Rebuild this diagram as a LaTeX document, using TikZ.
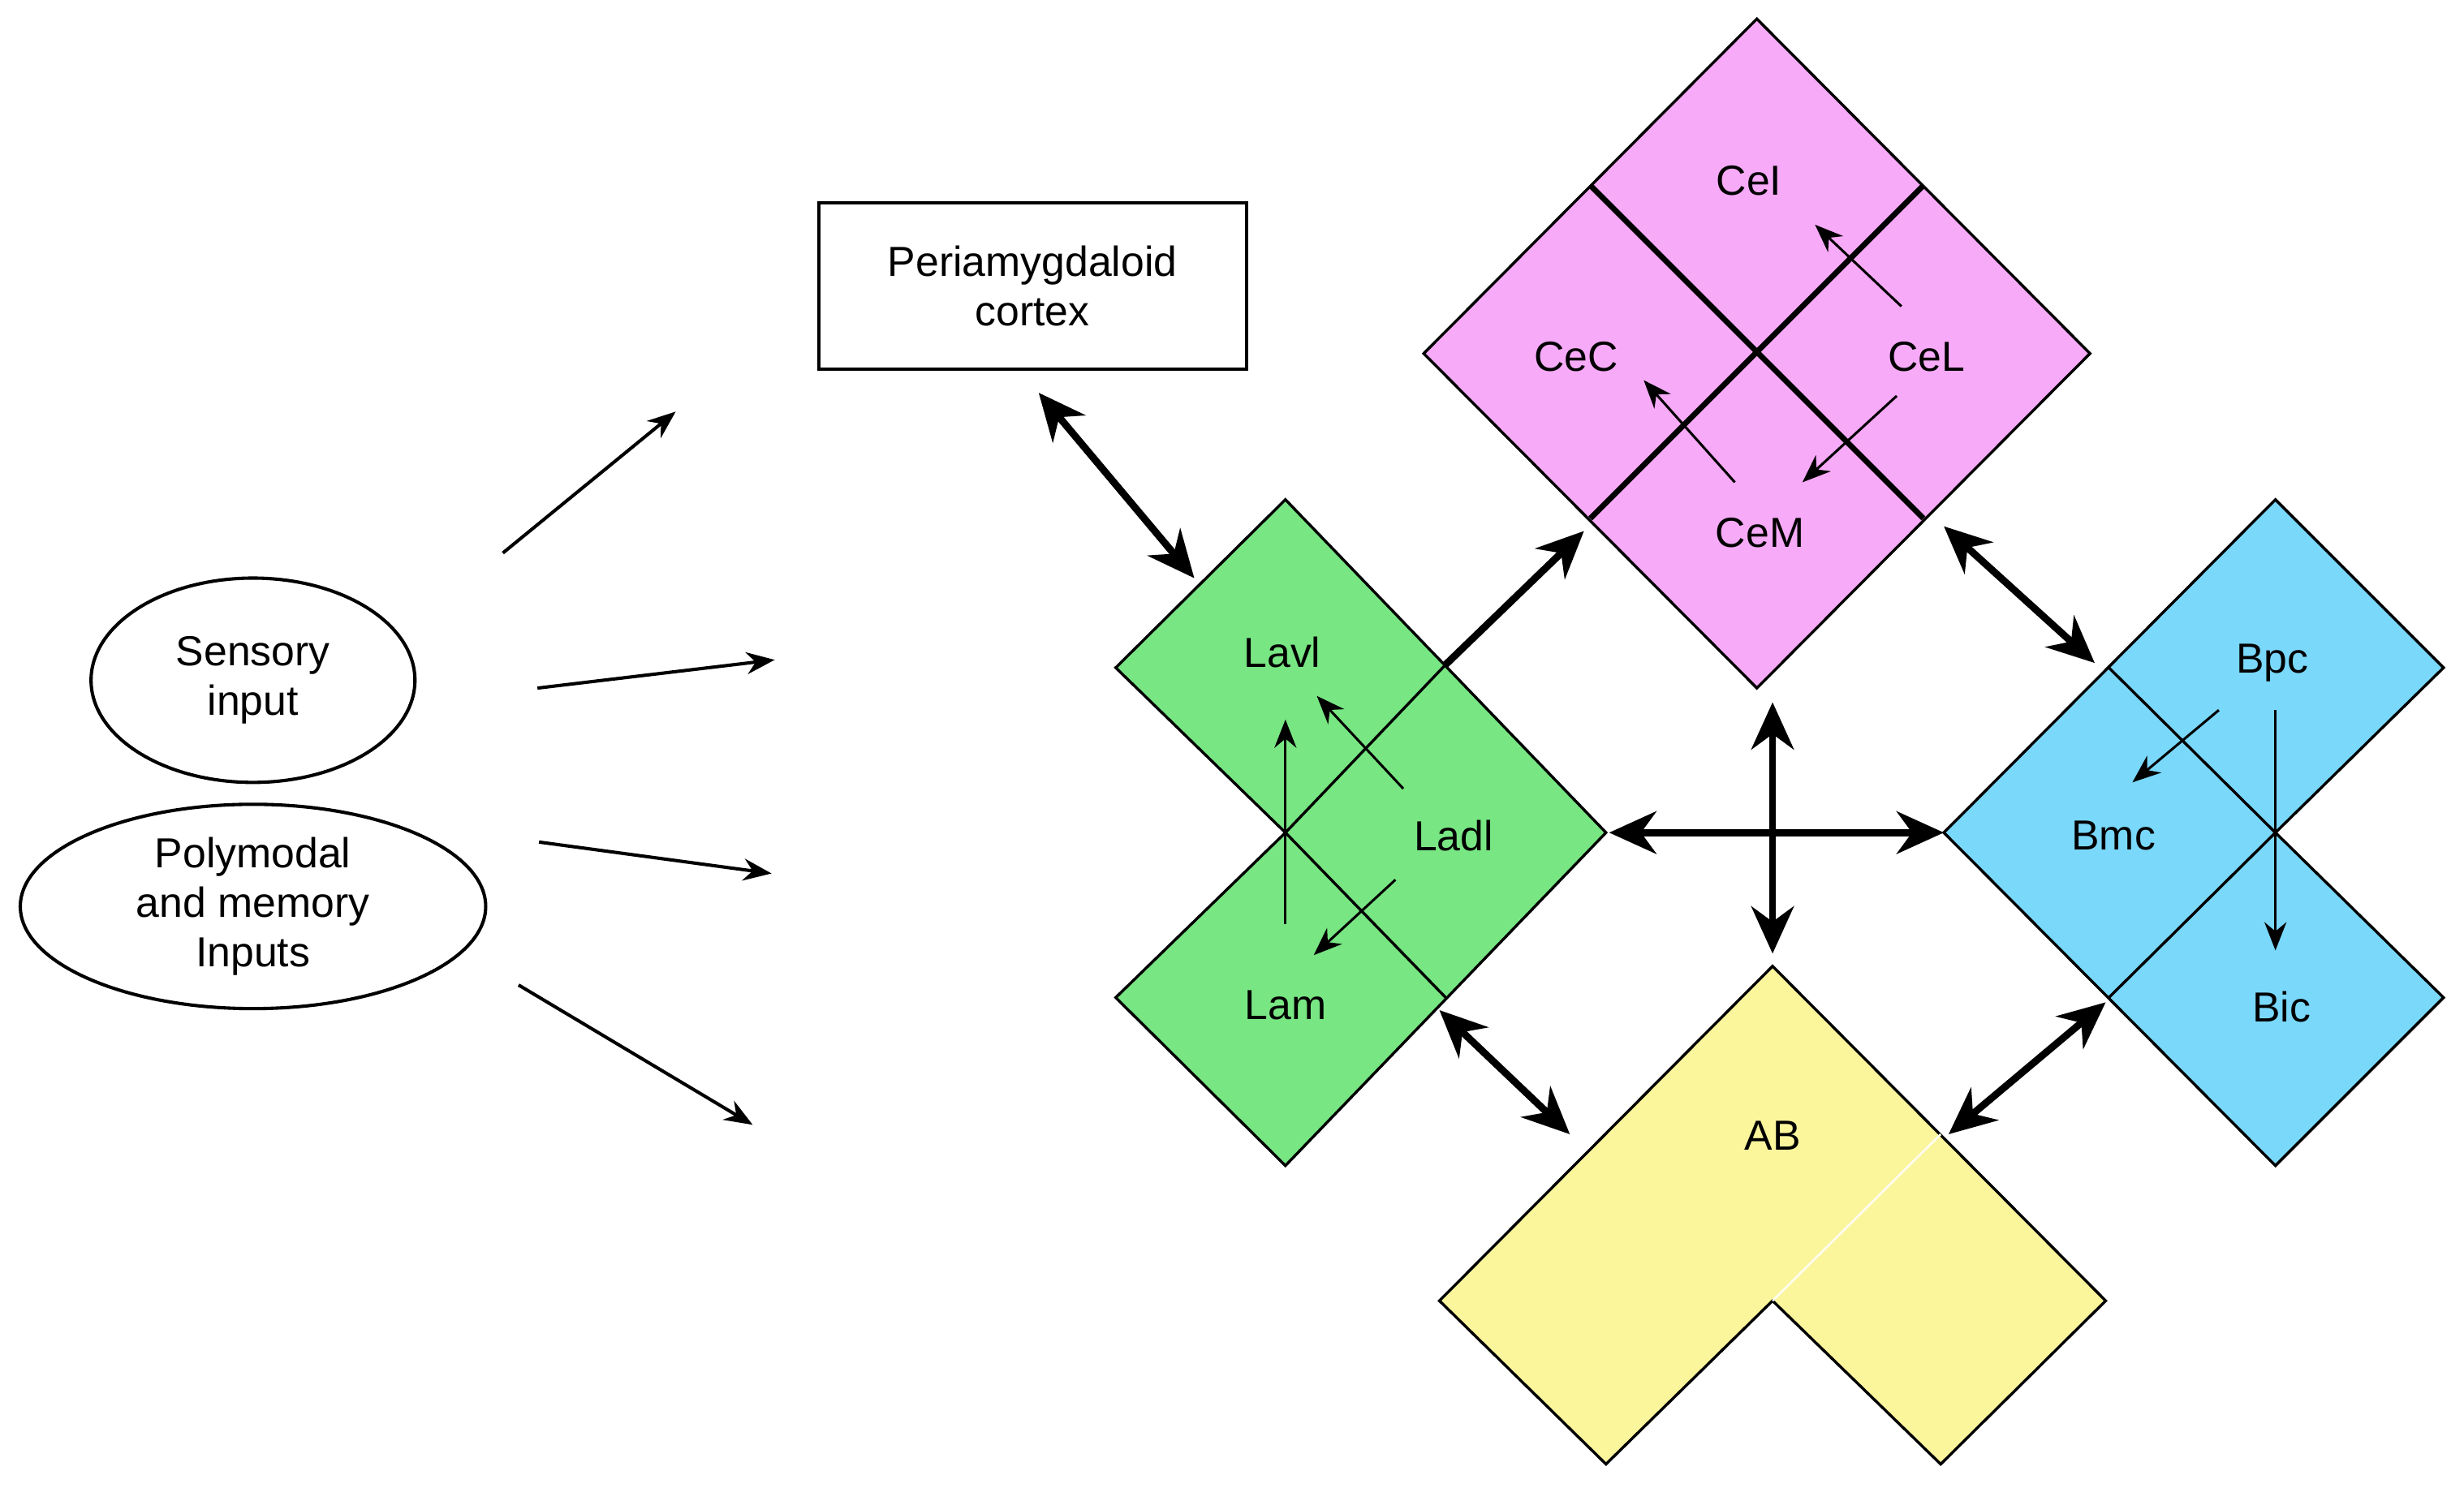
\documentclass[tikz,border=0pt]{standalone}
\usepackage{fontspec}
\setmainfont{Liberation Sans}
\usetikzlibrary{arrows.meta, shapes.geometric}
\definecolor{cepink}{HTML}{F7AAF7}
\definecolor{lagreen}{HTML}{78E683}
\definecolor{bblue}{HTML}{7AD8FA}
\definecolor{abyellow}{HTML}{FBF59C}
\tikzset{
    lbl/.style={font=\fontsize{7.6}{9}\selectfont, align=center},
    big/.style={line width=1.3pt, {Stealth[length=3mm,width=2.7mm]}-{Stealth[length=3mm,width=2.7mm]}},
    small/.style={line width=.45pt, -{Stealth[length=1.8mm,width=1.4mm]}},
    region/.style={draw=black, line width=.5pt, line join=miter}
}
\begin{document}
\begin{tikzpicture}[x=.01cm, y=-.01cm]
        \useasboundingbox (0, 0) rectangle (1568, 947);
        % nuclei
        \fill [region, fill=cepink] (1118, 12) -- (1330, 225) -- (1118, 438) -- (906, 225) -- cycle;
        \draw [line width=1pt] (1012, 118) -- (1224, 330) (1224, 118) -- (1012, 330);
        \fill [region, fill=lagreen] (818, 318) -- (1022, 530) -- (818, 742) -- (710, 635)
            -- (818, 530) -- (710, 425) -- cycle;
        \draw [region] (920, 423) -- (818, 530) -- (920, 635);
        \fill [region, fill=bblue] (1448, 318) -- (1555, 425) -- (1448, 530) -- (1555, 635)
            -- (1448, 742) -- (1237, 530) -- cycle;
        \draw [region] (1342, 425) -- (1448, 530) -- (1342, 635);
        \fill [region, fill=abyellow] (1128, 615) -- (1340, 828) -- (1235, 932) -- (1128, 828)
            -- (1022, 932) -- (916, 828) -- cycle;
        \draw [white!85!abyellow, line width=.4pt] (1235, 722) -- (1128, 828);
        % labels
        \node [lbl] (cel) at (1113, 115) {CeI};
        \node [lbl] (cec) at (1003, 227) {CeC};
        \node [lbl] (cell) at (1226, 227) {CeL};
        \node [lbl] (cem) at (1120, 339) {CeM};
        \node [lbl] (lavl) at (816, 415) {Lavl};
        \node [lbl] (ladl) at (925, 532) {Ladl};
        \node [lbl] (lam) at (818, 640) {Lam};
        \node [lbl] (bpc) at (1446, 422) {Bpc};
        \node [lbl] (bmc) at (1345, 532) {Bmc};
        \node [lbl] (bic) at (1452, 641) {Bic};
        \node [lbl] (ab) at (1128, 723) {AB};
        \node [lbl, draw, line width=.6pt, minimum width=2.72cm, minimum height=1.06cm] (peri)
            at (657, 182) {Periamygdaloid\\cortex};
        \node [lbl, draw, ellipse, line width=.6pt, minimum width=2.06cm, minimum height=1.3cm, inner sep=0pt] (sens)
            at (161, 433) {Sensory\\input};
        \node [lbl, draw, ellipse, line width=.6pt, minimum width=2.96cm, minimum height=1.3cm, inner sep=0pt] (poly)
            at (161, 577) {Polymodal\\and memory\\Inputs};
        % end points
        \coordinate (a1) at (320, 352); \coordinate (b1) at (430, 262);
        \coordinate (a2) at (342, 438); \coordinate (b2) at (493, 420);
        \coordinate (a3) at (343, 536); \coordinate (b3) at (491, 556);
        \coordinate (a4) at (330, 627); \coordinate (b4) at (479, 716);
        \coordinate (pa) at (661, 250); \coordinate (pb) at (760, 368);
        \coordinate (ga) at (920, 423); \coordinate (gb) at (1008, 338);
        \coordinate (ca) at (1237, 335); \coordinate (cb) at (1333, 422);
        \coordinate (ha) at (1024, 530); \coordinate (hb) at (1237, 530);
        \coordinate (va) at (1128, 447); \coordinate (vb) at (1128, 607);
        \coordinate (la) at (916, 643); \coordinate (lb) at (999, 722);
        \coordinate (ra) at (1340, 638); \coordinate (rb) at (1240, 722);
        \foreach \s/\t in {a1/b1, a2/b2, a3/b3, a4/b4}
            \draw [small, line width=.6pt] (\s) -- (\t);
        \foreach \s/\t in {pa/pb, ca/cb, ha/hb, va/vb, la/lb, ra/rb}
            \draw [big] (\s) -- (\t);
        \draw [line width=1.3pt, -{Stealth[length=3mm,width=2.7mm]}] (ga) -- (gb);
        % internal arrows
        \draw [small] (1210, 195) -- (1155, 143);
        \draw [small, {Stealth[length=1.8mm,width=1.4mm]}-] (1046, 242) -- (1104, 307);
        \draw [small] (1207, 252) -- (1147, 307);
        \draw [small, {Stealth[length=1.8mm,width=1.4mm]}-] (818, 458) -- (818, 588);
        \draw [small] (893, 502) -- (838, 443);
        \draw [small] (888, 560) -- (836, 608);
        \draw [small] (1412, 452) -- (1357, 498);
        \draw [small] (1448, 452) -- (1448, 605);
    \end{tikzpicture}
\end{document}
